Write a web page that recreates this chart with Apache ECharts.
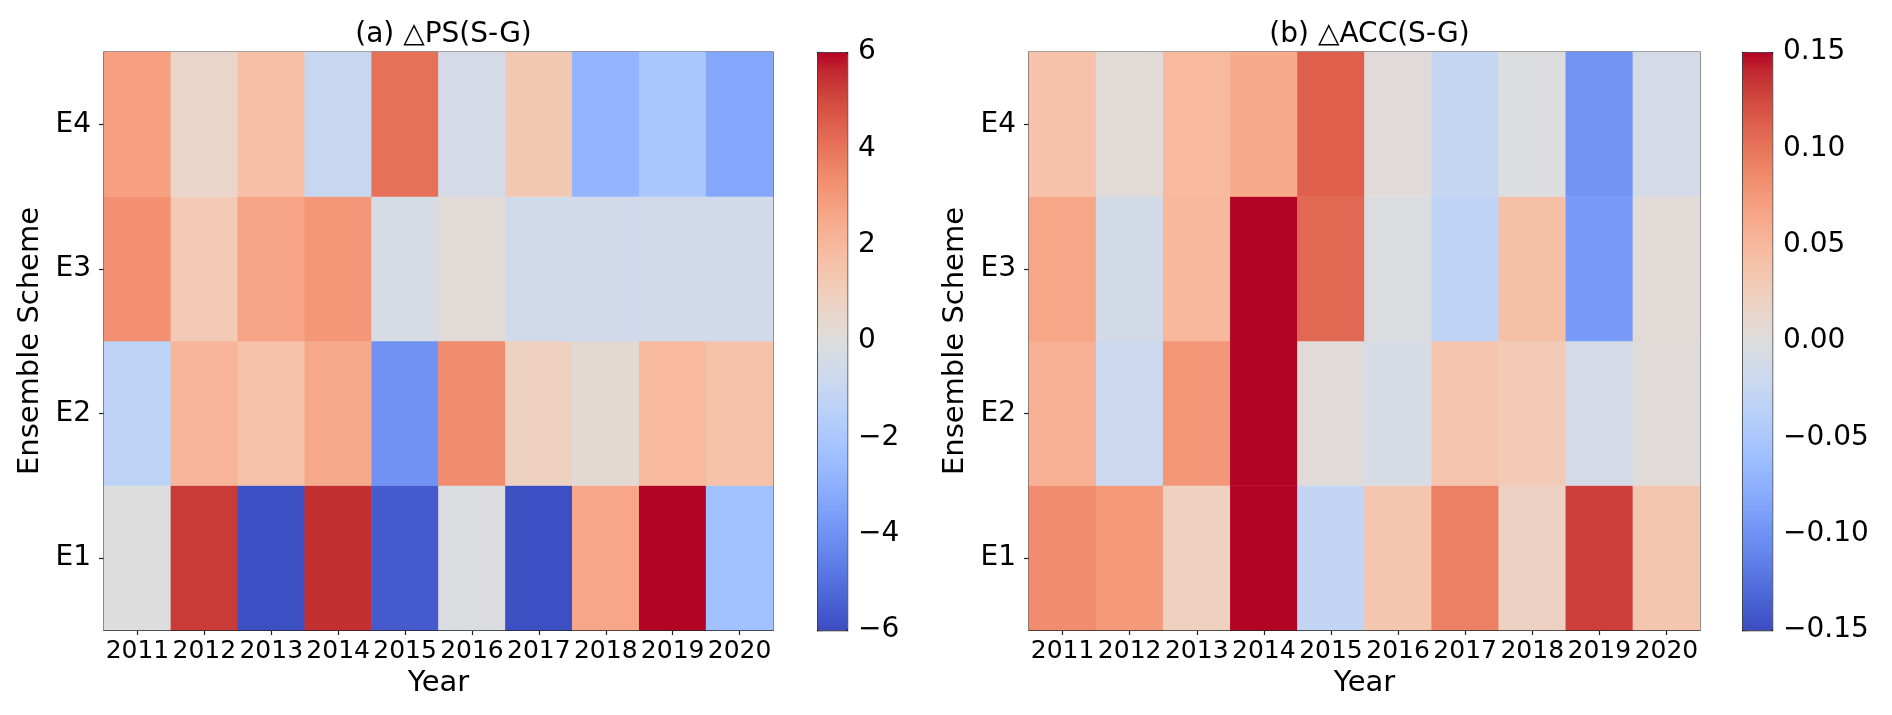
<!DOCTYPE html>
<html>
<head>
<meta charset="utf-8">
<script src="https://cdn.jsdelivr.net/npm/echarts@6/dist/echarts.min.js"></script>
<style>html,body{margin:0;padding:0;background:#fff;}#c{width:1892px;height:715px;}</style>
</head>
<body>
<div id="c"></div>
<script>
// ---- data ----
const years = ['2011','2012','2013','2014','2015','2016','2017','2018','2019','2020'];
const schemes = ['E1','E2','E3','E4'];
// ΔPS(S-G), one array per ensemble scheme, by year
const psE1 = [0.0, 5.3, -5.9, 5.5, -5.6, -0.1, -5.9, 2.6, 6.0, -2.3];
const psE2 = [-1.3, 2.1, 1.6, 2.5, -4.0, 3.4, 0.9, 0.3, 1.9, 1.6];
const psE3 = [3.3, 1.2, 2.7, 3.1, -0.3, 0.2, -0.6, -0.6, -0.6, -0.6];
const psE4 = [2.8, 0.6, 1.7, -0.9, 4.1, -0.4, 1.3, -2.8, -2.0, -3.3];
// ΔACC(S-G)
const accE1 = [0.085, 0.075, 0.022, 0.15, -0.028, 0.035, 0.093, 0.02, 0.13, 0.035];
const accE2 = [0.057, -0.02, 0.077, 0.15, 0.004, -0.007, 0.037, 0.03, -0.01, 0.004];
const accE3 = [0.065, -0.012, 0.05, 0.15, 0.108, -0.003, -0.032, 0.042, -0.093, 0.005];
const accE4 = [0.04, 0.005, 0.048, 0.062, 0.113, 0.003, -0.025, -0.002, -0.098, -0.01];
const psTicks = [-6, -4, -2, 0, 2, 4, 6];
const accTicks = [-0.15, -0.10, -0.05, 0.00, 0.05, 0.10, 0.15];

// coolwarm colormap stops
const coolwarm = [
 [59,76,192],[68,90,204],[77,104,215],[87,117,225],[98,130,234],[108,142,241],[119,154,247],[130,165,251],
 [141,176,254],[152,185,255],[163,194,255],[174,201,253],[184,208,249],[194,213,244],[204,217,238],[213,219,230],
 [221,221,221],[229,216,209],[236,211,197],[241,204,184],[245,196,173],[247,187,160],[247,177,148],[247,166,135],
 [244,154,123],[241,141,111],[236,127,99],[229,112,88],[222,96,77],[213,80,66],[203,62,56],[192,40,47],[180,4,38]
].map(c => 'rgb(' + c.join(',') + ')');

function toCells(rows) {
  const out = [];
  rows.forEach((r, yi) => r.forEach((v, xi) => out.push([xi, yi, v])));
  return out;
}
const psData = toCells([psE1, psE2, psE3, psE4]);
const accData = toCells([accE1, accE2, accE3, accE4]);

const FONT = 'DejaVu Sans';
const minus = s => String(s).replace('-', '\u2212');

const panels = [
  {left: 104, width: 669, cb: 817, title: '(a) \u25B3PS(S-G)', ticks: psTicks, fmt: v => minus(v)},
  {left: 1029, width: 671, cb: 1742, title: '(b) \u25B3ACC(S-G)', ticks: accTicks, fmt: v => minus((Math.abs(v) < 1e-9 ? 0 : v).toFixed(2))}
];
const TOP = 52, H = 578, CBW = 30;

const grid = [], xAxis = [], yAxis = [], series = [], visualMap = [], title = [];
panels.forEach((p, i) => {
  const mn = p.ticks[0], mx = p.ticks[p.ticks.length - 1], iv = p.ticks[1] - p.ticks[0];
  grid.push({left: p.left, top: TOP, width: p.width, height: H, show: true, borderColor: '#222', borderWidth: 1.2, backgroundColor: 'transparent'});
  grid.push({left: p.cb, top: TOP, width: CBW, height: H, show: false});
  xAxis.push({
    type: 'category', gridIndex: 2*i, data: years, name: 'Year', nameLocation: 'middle', nameGap: 37,
    nameTextStyle: {fontFamily: FONT, fontSize: 29, color: '#000'},
    axisLine: {show: true, lineStyle: {color: '#222', width: 1.2}},
    axisTick: {show: true, alignWithLabel: true, length: 5, lineStyle: {color: '#222', width: 1.2}},
    axisLabel: {fontFamily: FONT, fontSize: 25, color: '#000', margin: 9, interval: 0},
    splitLine: {show: false}, splitArea: {show: false}
  });
  xAxis.push({type: 'value', gridIndex: 2*i+1, show: false, min: 0, max: 1});
  yAxis.push({
    type: 'category', gridIndex: 2*i, data: schemes, name: 'Ensemble Scheme', nameLocation: 'middle', nameGap: 59,
    nameTextStyle: {fontFamily: FONT, fontSize: 29, color: '#000'},
    axisLine: {show: true, lineStyle: {color: '#222', width: 1.2}},
    axisTick: {show: true, alignWithLabel: true, length: 5, lineStyle: {color: '#222', width: 1.2}},
    axisLabel: {fontFamily: FONT, fontSize: 28, color: '#000', margin: 13},
    splitLine: {show: false}, splitArea: {show: false}
  });
  yAxis.push({
    type: 'value', gridIndex: 2*i+1, position: 'right', min: mn, max: mx, interval: iv,
    axisLine: {show: false},
    axisTick: {show: true, length: 6, lineStyle: {color: '#222', width: 1.2}},
    axisLabel: {fontFamily: FONT, fontSize: 28, color: '#000', margin: 11, formatter: p.fmt},
    splitLine: {show: false}
  });
  series.push({
    type: 'heatmap', xAxisIndex: 2*i, yAxisIndex: 2*i, data: i === 0 ? psData : accData,
    itemStyle: {borderWidth: 0}, emphasis: {disabled: true}, progressive: 0
  });
  visualMap.push({
    type: 'continuous', seriesIndex: i, min: mn, max: mx, calculable: false, hoverLink: false,
    orient: 'vertical', left: p.cb, top: TOP, itemWidth: CBW, itemHeight: H, padding: 0,
    borderColor: '#222', borderWidth: 1.2, text: null, showLabel: false,
    inRange: {color: coolwarm}
  });
  title.push({
    text: p.title, left: p.left + p.width / 2, top: 16, textAlign: 'center',
    textStyle: {fontFamily: FONT, fontSize: 28, fontWeight: 'normal', color: '#000'}
  });
});

const chart = echarts.init(document.getElementById('c'), null, {renderer: 'canvas'});
chart.setOption({animation: false, backgroundColor: '#fff', title, grid, xAxis, yAxis, series, visualMap});
</script>
</body>
</html>
